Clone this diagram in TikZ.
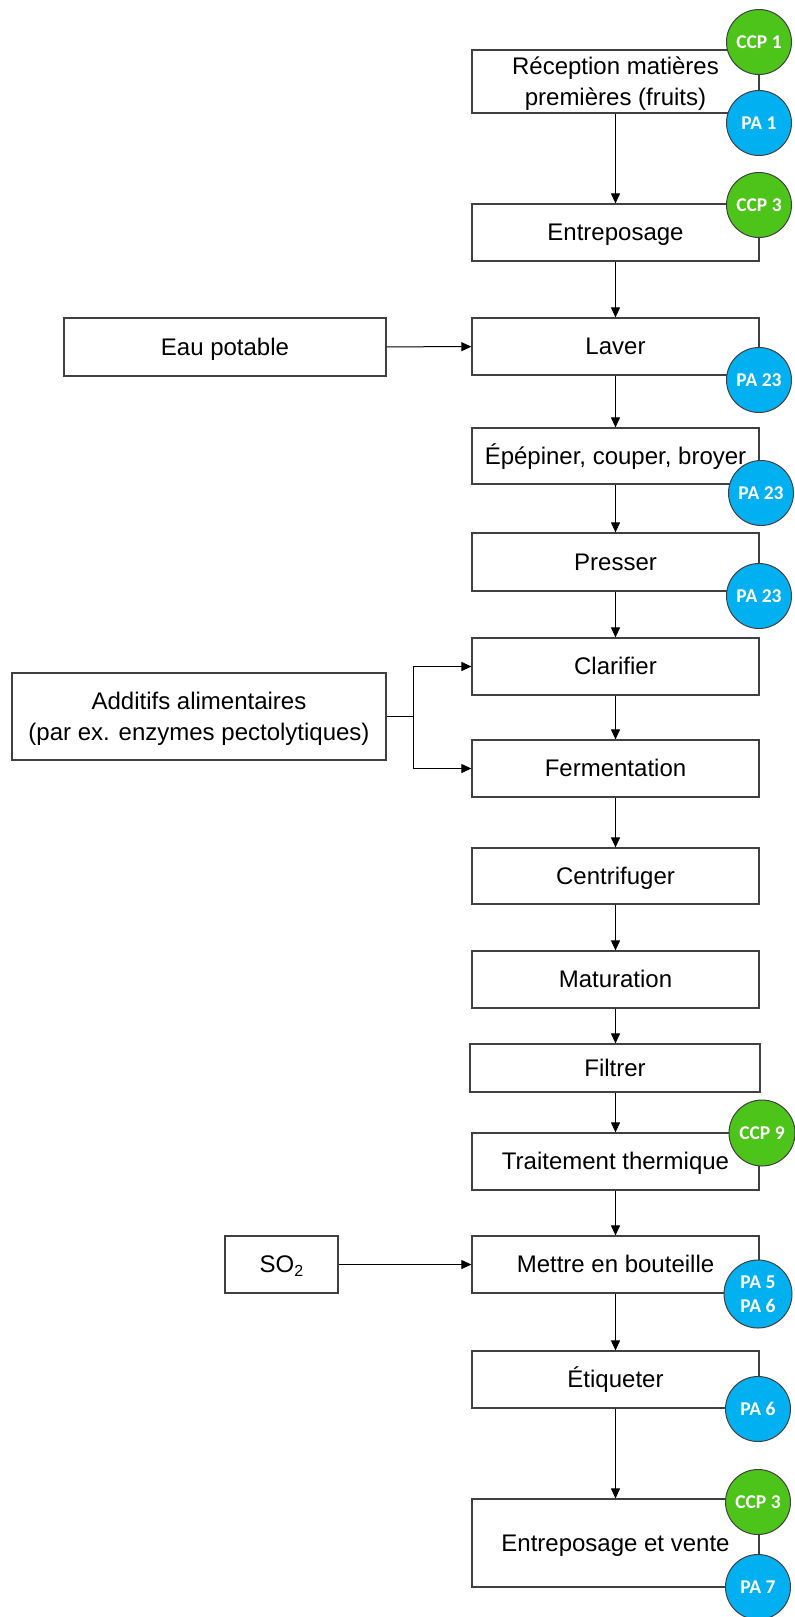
\documentclass[tikz,border=0pt]{standalone}
\usepackage{fontspec}
\setmainfont{Liberation Sans}
\newfontfamily\calib{Carlito}
\usetikzlibrary{arrows.meta}
\definecolor{ccpgreen}{RGB}{76,196,25}
\definecolor{pablue}{RGB}{0,176,240}
\definecolor{edgegray}{RGB}{64,64,64}
\tikzset{
  stepbox/.style={draw=edgegray, line width=1.2pt, fill=white, minimum width=287pt, minimum height=57pt, inner sep=0pt, align=center, text height=21.7pt, text depth=5.1pt, font=\fontsize{24}{31}\selectfont},
  linetext/.style={inner sep=0pt, anchor=base, font=\fontsize{24}{31}\selectfont},
  ccp/.style={circle, draw=edgegray, line width=1pt, fill=ccpgreen, minimum size=65pt, inner sep=0pt, text=white, align=center, font=\calib\bfseries\fontsize{19.5}{24}\selectfont},
  pa/.style={ccp, fill=pablue},
  arr/.style={draw=black, line width=1pt, -{Triangle[length=10pt,width=9pt]}},
  plainline/.style={draw=black, line width=1pt}
}
\begin{document}
\begin{tikzpicture}[x=1pt, y=-1pt]
\useasboundingbox (0,0) rectangle (795,1617);
% main column
\node[stepbox, minimum height=63pt] (rec) at (615.5,81.5) {};
\node[linetext] (rec1) at (615.5,74.4) {Réception matières};
\node[linetext] (rec2) at (615.5,105.4) {premières (fruits)};
\node[stepbox] (ent1) at (615.5,232.5) {Entreposage};
\node[stepbox] (laver) at (615.5,346.5) {Laver};
\node[stepbox, minimum height=56pt] (epep) at (615.5,456) {Épépiner, couper, broyer};
\node[stepbox, minimum height=58pt] (press) at (615.5,562) {Presser};
\node[stepbox] (clar) at (615.5,666.5) {Clarifier};
\node[stepbox] (ferm) at (615.5,768.5) {Fermentation};
\node[stepbox, minimum height=56pt] (centr) at (615.5,876) {Centrifuger};
\node[stepbox] (matur) at (615.5,979.5) {Maturation};
\node[stepbox, minimum width=290pt, minimum height=48pt] (filt) at (615,1068) {Filtrer};
\node[stepbox] (trait) at (615.5,1161.5) {Traitement thermique};
\node[stepbox] (mettre) at (615.5,1264.5) {Mettre en bouteille};
\node[stepbox] (etiq) at (615.5,1379.5) {Étiqueter};
\node[stepbox, minimum height=88pt] (ev) at (615.5,1543) {Entreposage et vente};
% side inputs
\node[stepbox, minimum width=322pt, minimum height=58pt] (eau) at (225,347) {Eau potable};
\node[stepbox, minimum width=374pt, minimum height=87pt] (add) at (199,716.5) {};
\node[linetext] (add1) at (199,709.4) {Additifs alimentaires};
\node[linetext] (add2) at (199,740.4) {(par ex. enzymes pectolytiques)};
\node[stepbox, minimum width=113pt] (so2) at (281.5,1264.5) {SO{\fontsize{16}{16}\selectfont\raisebox{-4pt}{2}}};
% connectors
\draw[arr] (rec) -- (ent1);
\draw[arr] (ent1) -- (laver);
\draw[arr] (laver) -- (epep);
\draw[arr] (epep) -- (press);
\draw[arr] (press) -- (clar);
\draw[arr] (clar) -- (ferm);
\draw[arr] (ferm) -- (centr);
\draw[arr] (centr) -- (matur);
\draw[arr] (matur.south) -- (filt.north -| matur.south);
\draw[arr] (filt.south -| trait.north) -- (trait);
\draw[arr] (trait) -- (mettre);
\draw[arr] (mettre) -- (etiq);
\draw[arr] (etiq) -- (ev);
\draw[arr] (eau) -- (laver);
\draw[arr] (so2) -- (mettre);
\coordinate (j) at (413,716.5);
\draw[plainline] (add.east) -- (j);
\draw[arr] (j) |- (clar.west);
\draw[arr] (j) |- (ferm.west);
% control points
\node[ccp] (c1) at (759,42) {CCP 1};
\node[pa] (p1) at (759,123) {PA 1};
\node[ccp] (c3) at (759,205) {CCP 3};
\node[pa] (p23a) at (759,380) {PA 23};
\node[pa] (p23b) at (761,493) {PA 23};
\node[pa] (p23c) at (759,596) {PA 23};
\node[ccp, minimum size=66pt] (c9) at (762,1133) {CCP 9};
\node[pa, minimum size=68pt] (p56) at (758,1294) {PA 5\\PA 6};
\node[pa] (p6) at (758,1409) {PA 6};
\node[ccp] (c3b) at (758,1502) {CCP 3};
\node[pa] (p7) at (758,1587) {PA 7};
\end{tikzpicture}
\end{document}
